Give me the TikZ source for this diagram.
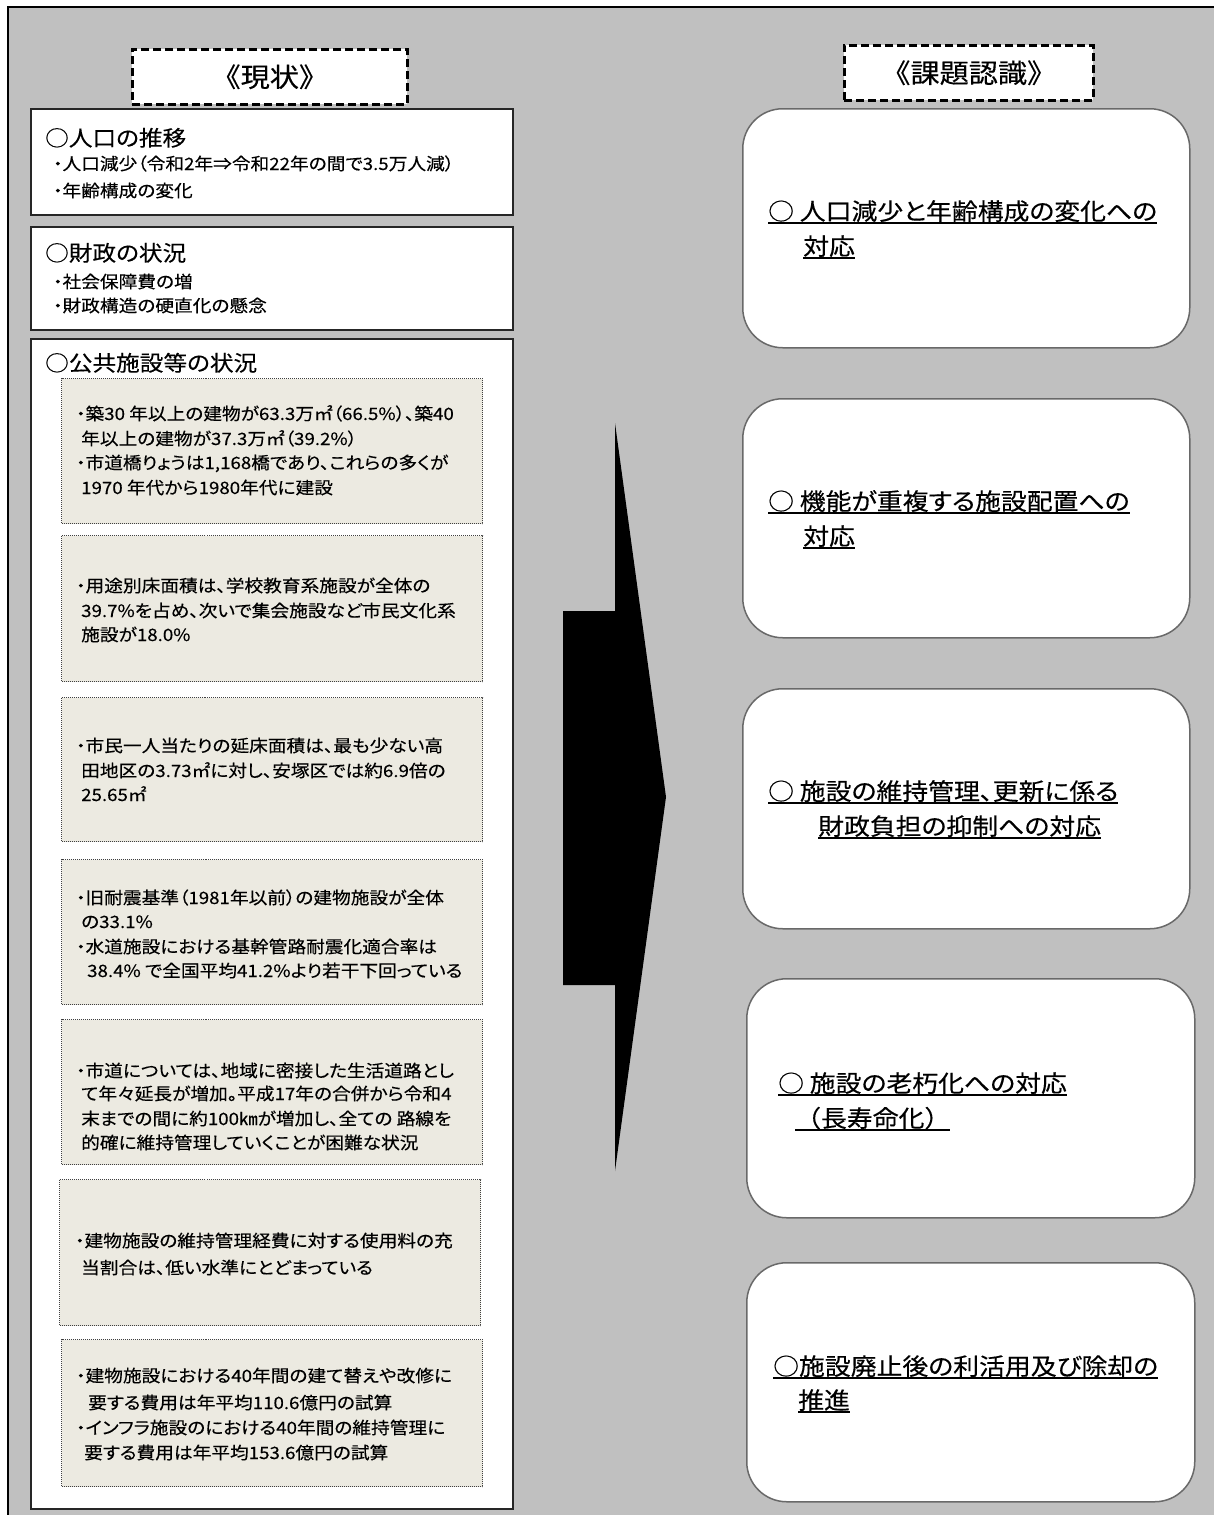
\documentclass[tikz,border=0pt]{standalone}
\usepackage{fontspec}
\setmainfont[RawFeature={+palt},FakeBold=0.3]{Noto Sans CJK JP}
\newfontfamily\rw[RawFeature={+palt},FakeBold=0.3,FakeStretch=1.1]{Noto Sans CJK JP}
\newfontfamily\rwf[FakeBold=0.3,FakeStretch=1.1]{Noto Sans CJK JP}
\definecolor{bggray}{RGB}{192,192,192}
\definecolor{beige}{RGB}{236,234,225}
\definecolor{rbord}{RGB}{105,105,105}
\newsavebox\ulsave
\newcommand\ulx[1]{\sbox\ulsave{#1}\rlap{\rule[-3.8pt]{\wd\ulsave}{1.4pt}}\usebox\ulsave}
\newcommand\tl[5]{\node[#1] (#2) at (#3,#4) {#5};}
\tikzset{
 lbox/.style={draw=black!85, line width=1.5pt, fill=white, inner sep=0pt, anchor=north west},
 dbox/.style={draw=black!75, densely dotted, line width=1pt, fill=beige, inner sep=0pt, anchor=north west},
 tbox/.style={draw=black, dash pattern=on 8pt off 4pt, line width=2.6pt, fill=white, inner sep=0pt, anchor=north west, font=\rwf\fontsize{26.5}{30}\selectfont},
 rbox/.style={draw=rbord, line width=1.5pt, fill=white, rounded corners=40pt, inner sep=0pt, anchor=north west},
 htxt/.style={anchor=base west, inner sep=0pt, font=\rw\fontsize{21.5}{26}\selectfont},
 btxt/.style={anchor=base west, inner sep=0pt, font=\rw\fontsize{17}{20}\selectfont},
 itxt/.style={anchor=base west, inner sep=0pt, font=\rw\fontsize{17}{21}\selectfont},
 rtxt/.style={anchor=base west, inner sep=0pt, font=\rw\fontsize{23.5}{28}\selectfont},
 rtxtf/.style={anchor=base west, inner sep=0pt, font=\rwf\fontsize{23.5}{28}\selectfont},
}
\begin{document}
\begin{tikzpicture}[x=1pt,y=-1pt]
\useasboundingbox (0,0) rectangle (1214,1515);
\clip (0,0) rectangle (1214,1515);
\fill[white] (0,0) rectangle (1214,1515);
\draw[fill=bggray, line width=2.5pt] (8,7) rectangle (1240,1540);

% titles
\node[tbox, minimum width=275pt, minimum height=55pt] (t1) at (131,48) {《現状》};
\node[tbox, minimum width=249pt, minimum height=55pt] (t2) at (843,44) {《課題認識》};

% left boxes
\node[lbox, minimum width=482pt, minimum height=106pt] (b1) at (30,108) {};
\node[lbox, minimum width=482pt, minimum height=103pt] (b2) at (30,226) {};
\node[lbox, minimum width=482pt, minimum height=1170pt] (b3) at (30,338) {};

\tl{htxt}{h1}{45}{146}{○人口の推移}
\tl{btxt}{h1a}{53}{170}{・人口減少（令和2年⇒令和22年の間で3.5万人減）}
\tl{btxt}{h1b}{53}{197}{・年齢構成の変化}
\tl{htxt}{h2}{45}{261}{○財政の状況}
\tl{btxt}{h2a}{53}{288}{・社会保障費の増}
\tl{btxt}{h2b}{53}{312}{・財政構造の硬直化の懸念}
\tl{htxt}{h3}{45}{371}{○公共施設等の状況}

% inner dotted boxes
\node[dbox, minimum width=421pt, minimum height=145pt] (da) at (61,378) {};
\node[dbox, minimum width=421pt, minimum height=146pt] (db) at (61,535) {};
\node[dbox, minimum width=421pt, minimum height=144pt] (dc) at (61,697) {};
\node[dbox, minimum width=421pt, minimum height=145pt] (dd) at (61,859) {};
\node[dbox, minimum width=421pt, minimum height=145pt] (de) at (61,1019) {};
\node[dbox, minimum width=421pt, minimum height=146pt] (df) at (59,1179) {};
\node[dbox, minimum width=421pt, minimum height=147pt] (dg) at (61,1339) {};

\tl{itxt}{a1}{76}{420}{・築30 年以上の建物が63.3万㎡（66.5\%）、築40}
\tl{itxt}{a2}{81}{445}{年以上の建物が37.3万㎡（39.2\%）}
\tl{itxt}{a3}{76}{469}{・市道橋りょうは1,168橋であり、これらの多くが}
\tl{itxt}{a4}{81}{494}{1970 年代から1980年代に建設}

\tl{itxt}{b1l}{76}{592}{・用途別床面積は、学校教育系施設が全体の}
\tl{itxt}{b2l}{81}{617}{39.7\%を占め、次いで集会施設など市民文化系}
\tl{itxt}{b3l}{81}{641}{施設が18.0\%}

\tl{itxt}{c1}{76}{752}{・市民一人当たりの延床面積は、最も少ない高}
\tl{itxt}{c2}{81}{777}{田地区の3.73㎡に対し、安塚区では約6.9倍の}
\tl{itxt}{c3}{81}{801}{25.65㎡}

\tl{itxt}{d1}{76}{904}{・旧耐震基準（1981年以前）の建物施設が全体}
\tl{itxt}{d2}{81}{928}{の33.1\%}
\tl{itxt}{d3}{76}{953}{・水道施設における基幹管路耐震化適合率は}
\tl{itxt}{d4}{87}{977}{38.4\% で全国平均41.2\%より若干下回っている}

\tl{itxt}{e1}{76}{1077}{・市道については、地域に密接した生活道路とし}
\tl{itxt}{e2}{81}{1100}{て年々延長が増加。平成17年の合併から令和4}
\tl{itxt}{e3}{81}{1125}{末までの間に約100㎞が増加し、全ての 路線を}
\tl{itxt}{e4}{81}{1149}{的確に維持管理していくことが困難な状況}

\tl{itxt}{f1}{75}{1247}{・建物施設の維持管理経費に対する使用料の充}
\tl{itxt}{f2}{81}{1274}{当割合は、低い水準にとどまっている}

\tl{itxt}{g1}{76}{1382}{・建物施設における40年間の建て替えや改修に}
\tl{itxt}{g2}{88}{1409}{要する費用は年平均110.6億円の試算}
\tl{itxt}{g3}{76}{1434}{・インフラ施設のにおける40年間の維持管理に}
\tl{itxt}{g4}{84}{1459}{要する費用は年平均153.6億円の試算}

% arrow
\fill[black] (563,611) -- (615,611) -- (615,423) -- (666,797) -- (615,1171) -- (615,985) -- (563,985) -- cycle;

% right boxes
\node[rbox, minimum width=447pt, minimum height=239pt] (r1) at (742,108) {};
\node[rbox, minimum width=447pt, minimum height=239pt] (r2) at (742,398) {};
\node[rbox, minimum width=447pt, minimum height=240pt] (r3) at (742,688) {};
\node[rbox, minimum width=448pt, minimum height=239pt] (r4) at (746,978) {};
\node[rbox, minimum width=448pt, minimum height=239pt] (r5) at (746,1262) {};

\tl{rtxt}{r1a}{768}{220}{\ulx{○ 人口減少と年齢構成の変化への}}
\tl{rtxt}{r1b}{803}{255}{\ulx{対応}}
\tl{rtxt}{r2a}{768}{510}{\ulx{○ 機能が重複する施設配置への}}
\tl{rtxt}{r2b}{803}{545}{\ulx{対応}}
\tl{rtxt}{r3a}{768}{800}{\ulx{○ 施設の維持管理、更新に係る}}
\tl{rtxt}{r3b}{818}{835}{\ulx{財政負担の抑制への対応}}
\tl{rtxt}{r4a}{778}{1092}{\ulx{○ 施設の老朽化への対応}}
\tl{rtxtf}{r4b}{795}{1127}{\ulx{（長寿命化）}}
\tl{rtxt}{r5a}{773}{1375}{\ulx{○施設廃止後の利活用及び除却の}}
\tl{rtxt}{r5b}{798}{1409}{\ulx{推進}}
\end{tikzpicture}
\end{document}
